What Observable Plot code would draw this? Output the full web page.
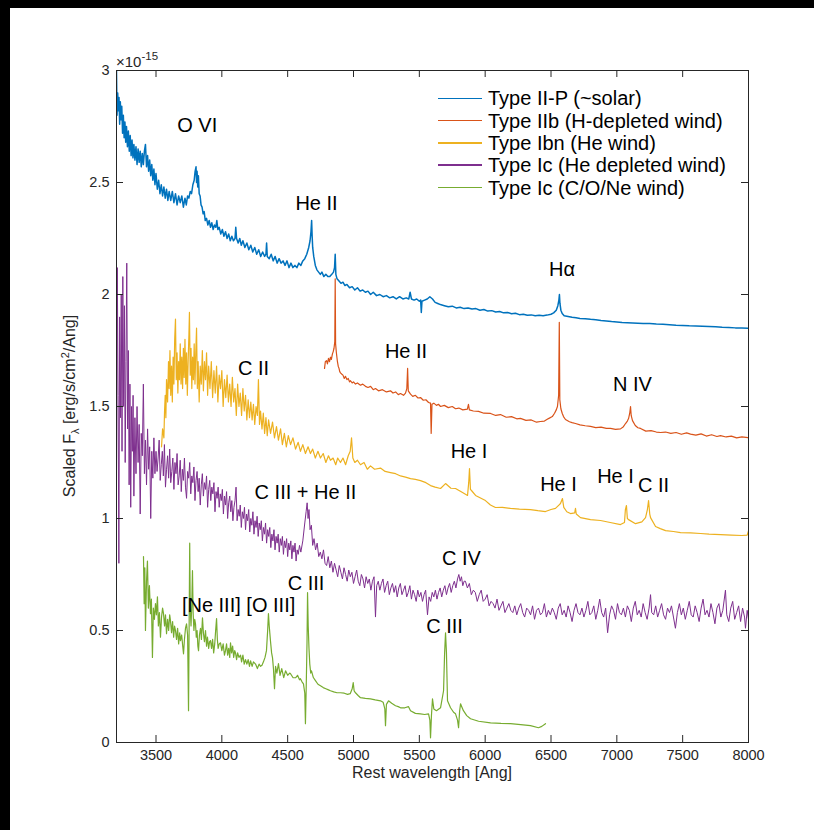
<!DOCTYPE html>
<html><head><meta charset="utf-8">
<script src="https://cdn.jsdelivr.net/npm/d3@7"></script>
<script src="https://cdn.jsdelivr.net/npm/@observablehq/plot@0.6"></script>
<style>
body{margin:0;background:#fff;}
#wrap{position:relative;width:814px;height:830px;overflow:hidden;font-family:"Liberation Sans",Arial,Helvetica,sans-serif;}
#wrap svg{position:absolute;left:0;top:0;}
.ov{position:absolute;white-space:nowrap;}
.band{position:absolute;background:#000;}
</style></head>
<body><div id="wrap"></div>
<script>
// ---- series (wavelength [Ang], scaled flux [1e-15 erg/s/cm2/Ang]) ----
const typeIIP = [[3200,3.00],[3204,2.80],[3209,2.90],[3214,2.82],[3219,2.88],[3224,2.76],[3229,2.86],[3234,2.78],[3240,2.84],[3246,2.72],[3252,2.80],[3258,2.70],[3264,2.77],[3270,2.68],[3276,2.75],[3283,2.66],[3290,2.73],[3297,2.64],[3304,2.71],[3311,2.62],[3318,2.69],[3325,2.61],[3332,2.67],[3340,2.60],[3348,2.66],[3356,2.58],[3364,2.65],[3372,2.59],[3380,2.64],[3388,2.57],[3396,2.63],[3404,2.58],[3412,2.64],[3420,2.67],[3428,2.57],[3436,2.62],[3444,2.55],[3452,2.60],[3460,2.53],[3468,2.58],[3476,2.51],[3484,2.56],[3492,2.49],[3500,2.54],[3510,2.47],[3520,2.51],[3530,2.45],[3540,2.49],[3550,2.44],[3560,2.48],[3570,2.43],[3580,2.47],[3590,2.42],[3600,2.46],[3612,2.42],[3624,2.46],[3636,2.41],[3648,2.45],[3660,2.40],[3672,2.44],[3684,2.41],[3696,2.44],[3708,2.39],[3720,2.43],[3730,2.40],[3740,2.44],[3750,2.43],[3760,2.46],[3770,2.45],[3780,2.49],[3790,2.51],[3797,2.55],[3804,2.57],[3808,2.50],[3812,2.55],[3817,2.48],[3822,2.53],[3828,2.45],[3835,2.44],[3842,2.40],[3850,2.39],[3858,2.36],[3866,2.37],[3874,2.33],[3884,2.34],[3894,2.31],[3904,2.33],[3914,2.30],[3924,2.32],[3934,2.29],[3944,2.31],[3954,2.30],[3962,2.33],[3970,2.29],[3980,2.30],[3992,2.27],[4004,2.29],[4016,2.26],[4028,2.28],[4040,2.25],[4052,2.27],[4064,2.24],[4076,2.26],[4088,2.24],[4100,2.25],[4106,2.30],[4112,2.25],[4124,2.23],[4136,2.25],[4148,2.22],[4160,2.24],[4175,2.21],[4190,2.23],[4205,2.20],[4220,2.22],[4235,2.19],[4250,2.21],[4265,2.18],[4280,2.20],[4295,2.17],[4310,2.19],[4325,2.17],[4335,2.18],[4340,2.23],[4345,2.17],[4360,2.16],[4375,2.18],[4390,2.15],[4405,2.17],[4420,2.14],[4435,2.16],[4450,2.14],[4465,2.15],[4480,2.13],[4495,2.15],[4510,2.12],[4525,2.14],[4540,2.12],[4555,2.13],[4570,2.12],[4585,2.14],[4600,2.13],[4615,2.15],[4630,2.16],[4645,2.18],[4660,2.21],[4670,2.24],[4677,2.28],[4682,2.33],[4686,2.26],[4690,2.21],[4698,2.17],[4710,2.13],[4722,2.11],[4735,2.10],[4748,2.09],[4760,2.10],[4775,2.08],[4790,2.09],[4805,2.08],[4820,2.08],[4835,2.09],[4848,2.10],[4856,2.12],[4861,2.18],[4866,2.09],[4875,2.07],[4890,2.06],[4905,2.05],[4920,2.055],[4935,2.04],[4950,2.045],[4970,2.03],[4990,2.035],[5010,2.02],[5030,2.03],[5050,2.015],[5070,2.02],[5090,2.01],[5110,2.015],[5130,2.00],[5150,2.01],[5175,1.995],[5200,2.00],[5225,1.99],[5250,1.995],[5275,1.985],[5300,1.99],[5325,1.98],[5350,1.99],[5375,1.98],[5400,1.985],[5420,1.98],[5430,2.01],[5440,1.98],[5460,1.975],[5480,1.98],[5500,1.97],[5510,1.975],[5515,1.92],[5520,1.97],[5540,1.975],[5560,1.98],[5580,1.99],[5600,1.98],[5620,1.965],[5640,1.96],[5660,1.955],[5690,1.95],[5720,1.945],[5750,1.948],[5780,1.94],[5810,1.943],[5840,1.937],[5870,1.94],[5900,1.935],[5930,1.937],[5960,1.93],[5990,1.933],[6020,1.926],[6050,1.928],[6080,1.922],[6110,1.924],[6140,1.918],[6170,1.92],[6200,1.914],[6230,1.916],[6260,1.91],[6290,1.912],[6320,1.907],[6350,1.909],[6380,1.905],[6410,1.907],[6440,1.905],[6470,1.908],[6500,1.912],[6520,1.918],[6540,1.93],[6552,1.95],[6560,1.975],[6564,2.00],[6568,1.96],[6575,1.93],[6585,1.915],[6600,1.905],[6630,1.902],[6660,1.898],[6690,1.896],[6720,1.893],[6760,1.892],[6800,1.889],[6840,1.887],[6880,1.884],[6920,1.882],[6960,1.879],[7000,1.877],[7040,1.875],[7080,1.874],[7120,1.873],[7160,1.872],[7200,1.871],[7250,1.870],[7300,1.868],[7350,1.867],[7400,1.865],[7450,1.863],[7500,1.862],[7550,1.860],[7600,1.859],[7650,1.858],[7700,1.857],[7750,1.856],[7800,1.854],[7850,1.853],[7900,1.851],[7950,1.850],[8000,1.849]];

const typeIIb = [[4780,1.67],[4786,1.70],[4795,1.705],[4802,1.69],[4810,1.715],[4818,1.70],[4825,1.72],[4832,1.71],[4840,1.735],[4846,1.745],[4852,1.76],[4858,1.79],[4861,2.07],[4864,1.78],[4870,1.74],[4878,1.70],[4884,1.68],[4890,1.67],[4896,1.655],[4901,1.65],[4910,1.645],[4920,1.64],[4930,1.625],[4939,1.635],[4950,1.62],[4960,1.625],[4970,1.61],[4977,1.615],[4990,1.605],[5000,1.61],[5015,1.60],[5030,1.605],[5053,1.595],[5070,1.60],[5091,1.59],[5110,1.585],[5130,1.59],[5150,1.575],[5167,1.58],[5190,1.57],[5220,1.575],[5250,1.565],[5281,1.57],[5300,1.56],[5320,1.565],[5340,1.553],[5357,1.558],[5380,1.55],[5395,1.56],[5405,1.58],[5411,1.67],[5416,1.57],[5433,1.555],[5450,1.545],[5470,1.55],[5490,1.538],[5509,1.54],[5530,1.528],[5550,1.53],[5570,1.518],[5585,1.515],[5590,1.38],[5596,1.51],[5610,1.515],[5630,1.505],[5645,1.51],[5661,1.50],[5690,1.505],[5720,1.495],[5750,1.50],[5775,1.49],[5800,1.493],[5830,1.485],[5865,1.488],[5873,1.51],[5880,1.485],[5910,1.48],[5950,1.478],[5990,1.47],[6041,1.469],[6080,1.46],[6116,1.464],[6160,1.452],[6200,1.455],[6240,1.445],[6268,1.447],[6310,1.438],[6350,1.44],[6390,1.43],[6420,1.433],[6450,1.435],[6481,1.446],[6510,1.455],[6527,1.47],[6540,1.485],[6549,1.50],[6558,1.55],[6563,1.876],[6567,1.53],[6575,1.49],[6585,1.47],[6595,1.455],[6610,1.442],[6640,1.432],[6660,1.428],[6686,1.424],[6720,1.418],[6760,1.414],[6800,1.411],[6840,1.406],[6880,1.408],[6920,1.402],[6952,1.402],[6990,1.398],[7028,1.40],[7050,1.41],[7066,1.424],[7080,1.435],[7089,1.446],[7098,1.47],[7104,1.50],[7109,1.46],[7119,1.437],[7140,1.415],[7160,1.405],[7180,1.402],[7220,1.39],[7260,1.392],[7300,1.386],[7332,1.384],[7370,1.386],[7410,1.38],[7450,1.384],[7490,1.376],[7530,1.382],[7560,1.377],[7600,1.372],[7640,1.378],[7680,1.368],[7720,1.374],[7760,1.366],[7787,1.37],[7830,1.364],[7870,1.368],[7910,1.36],[7950,1.364],[8000,1.361]];

const typeIbn = [[3542,1.32],[3550,1.40],[3560,1.36],[3565,1.48],[3570,1.55],[3575,1.45],[3580,1.62],[3588,1.52],[3595,1.70],[3600,1.58],[3606,1.75],[3612,1.55],[3618,1.68],[3624,1.52],[3630,1.72],[3636,1.60],[3642,1.80],[3648,1.89],[3654,1.62],[3660,1.74],[3666,1.56],[3672,1.70],[3678,1.62],[3684,1.78],[3690,1.60],[3696,1.72],[3702,1.58],[3708,1.76],[3714,1.63],[3720,1.80],[3726,1.60],[3732,1.74],[3738,1.55],[3744,1.70],[3750,1.82],[3754,1.92],[3760,1.64],[3766,1.76],[3772,1.58],[3778,1.72],[3784,1.62],[3790,1.78],[3796,1.60],[3802,1.74],[3808,1.85],[3814,1.58],[3820,1.70],[3828,1.52],[3836,1.68],[3844,1.60],[3852,1.75],[3860,1.57],[3868,1.70],[3876,1.62],[3884,1.74],[3892,1.55],[3900,1.68],[3910,1.58],[3920,1.70],[3930,1.54],[3940,1.66],[3950,1.56],[3960,1.68],[3970,1.52],[3980,1.64],[3990,1.58],[4000,1.66],[4010,1.50],[4020,1.62],[4030,1.54],[4040,1.64],[4050,1.52],[4060,1.60],[4070,1.50],[4080,1.63],[4090,1.52],[4100,1.58],[4110,1.46],[4120,1.60],[4130,1.50],[4140,1.56],[4150,1.46],[4160,1.58],[4170,1.48],[4180,1.55],[4190,1.44],[4200,1.53],[4210,1.45],[4220,1.52],[4230,1.44],[4240,1.51],[4250,1.42],[4260,1.50],[4270,1.46],[4278,1.62],[4286,1.42],[4294,1.48],[4305,1.40],[4315,1.47],[4325,1.38],[4335,1.45],[4345,1.37],[4355,1.44],[4370,1.38],[4385,1.43],[4400,1.36],[4415,1.41],[4430,1.35],[4446,1.40],[4460,1.33],[4475,1.38],[4490,1.32],[4505,1.37],[4522,1.33],[4540,1.36],[4560,1.31],[4580,1.34],[4597,1.30],[4615,1.33],[4635,1.29],[4655,1.32],[4673,1.29],[4690,1.31],[4710,1.27],[4730,1.30],[4749,1.27],[4770,1.29],[4790,1.25],[4810,1.28],[4825,1.26],[4845,1.27],[4865,1.24],[4880,1.27],[4901,1.25],[4920,1.27],[4940,1.24],[4960,1.28],[4975,1.30],[4985,1.36],[4995,1.27],[5010,1.25],[5030,1.26],[5053,1.24],[5080,1.25],[5105,1.22],[5129,1.235],[5160,1.22],[5205,1.225],[5240,1.21],[5281,1.205],[5320,1.20],[5357,1.19],[5395,1.185],[5433,1.178],[5470,1.175],[5509,1.169],[5550,1.16],[5585,1.147],[5620,1.14],[5661,1.134],[5699,1.156],[5740,1.135],[5775,1.134],[5828,1.116],[5866,1.103],[5875,1.16],[5881,1.223],[5888,1.13],[5896,1.125],[5927,1.103],[6002,1.08],[6040,1.06],[6078,1.049],[6130,1.05],[6192,1.045],[6260,1.042],[6344,1.04],[6400,1.035],[6458,1.031],[6500,1.04],[6534,1.045],[6560,1.06],[6572,1.067],[6587,1.089],[6597,1.05],[6620,1.03],[6648,1.022],[6680,1.025],[6686,1.045],[6692,1.02],[6724,1.004],[6800,0.995],[6876,0.991],[6950,0.982],[7028,0.973],[7058,0.982],[7065,1.04],[7073,1.058],[7080,1.0],[7089,0.995],[7142,0.977],[7190,0.985],[7218,1.004],[7232,1.04],[7241,1.08],[7250,1.02],[7256,1.004],[7294,0.964],[7330,0.955],[7370,0.946],[7430,0.942],[7484,0.937],[7560,0.936],[7636,0.933],[7700,0.93],[7788,0.928],[7870,0.926],[7950,0.924],[7990,0.926],[8000,0.945]];

const typeIcHe = [[3200,1.20],[3206,2.12],[3212,1.55],[3218,0.80],[3224,1.90],[3230,1.45],[3236,2.00],[3242,1.30],[3248,2.08],[3254,1.50],[3260,1.95],[3266,1.25],[3272,1.70],[3278,2.14],[3284,1.40],[3290,1.75],[3296,1.15],[3302,1.60],[3308,1.05],[3314,1.50],[3320,1.30],[3326,1.55],[3332,1.10],[3340,1.45],[3348,1.20],[3356,1.50],[3364,1.25],[3372,1.42],[3380,1.02],[3388,1.38],[3396,1.28],[3404,1.60],[3412,1.20],[3420,1.35],[3428,1.15],[3436,1.40],[3444,1.22],[3452,1.32],[3460,1.00],[3468,1.30],[3476,1.18],[3484,1.36],[3492,1.20],
[3500,1.30],[3508,1.21],[3516,1.27],[3524,1.35],[3532,1.17],[3540,1.24],[3548,1.30],[3556,1.19],[3564,1.33],[3572,1.14],[3580,1.22],[3588,1.28],[3596,1.18],[3604,1.31],[3612,1.16],[3620,1.21],[3628,1.27],[3636,1.13],[3644,1.25],[3652,1.20],[3660,1.29],[3668,1.15],[3676,1.19],[3684,1.26],[3692,1.12],[3700,1.22],[3708,1.17],[3716,1.27],[3724,1.14],[3732,1.09],[3740,1.21],[3748,1.18],[3756,1.25],[3764,1.11],[3772,1.19],[3780,1.16],[3788,1.23],[3796,1.08],[3804,1.17],[3812,1.21],[3820,1.12],[3828,1.18],[3836,1.06],[3844,1.15],[3852,1.20],[3860,1.10],[3868,1.16],[3876,1.13],[3884,1.19],[3892,1.05],[3900,1.13],[3908,1.17],[3916,1.08],[3924,1.14],[3932,1.11],[3940,1.16],[3948,1.03],[3956,1.12],[3964,1.09],[3972,1.14],[3980,1.05],[3988,1.11],[3996,1.08],[4004,1.13],[4012,1.02],[4020,1.10],[4028,1.06],[4036,1.12],[4044,1.00],[4052,1.07],[4060,1.10],[4068,1.03],[4076,1.08],[4084,0.99],[4092,1.05],[4100,1.08],[4108,1.14],[4116,0.99],[4124,1.04],[4132,1.01],[4140,1.06],[4148,0.96],[4156,1.03],[4164,1.00],[4172,1.05],[4180,0.95],[4188,1.02],[4196,0.99],[4204,1.04],[4212,0.94],[4220,1.00],[4228,0.97],[4236,1.03],[4244,0.93],[4252,0.99],[4260,0.96],[4268,1.01],[4276,0.92],[4284,0.98],[4292,0.95],[4300,0.99],[4308,0.90],[4316,0.96],[4324,0.93],[4332,0.98],[4340,0.89],[4348,0.95],[4356,0.92],[4364,0.96],[4372,0.87],[4380,0.93],[4388,0.90],[4396,0.95],[4404,0.86],[4412,0.92],[4420,0.89],[4428,0.93],[4436,0.85],[4444,0.91],[4452,0.88],[4460,0.92],[4468,0.84],[4476,0.90],[4484,0.87],[4492,0.91],[4500,0.83],[4508,0.89],[4516,0.86],[4524,0.90],[4532,0.82],[4540,0.88],[4548,0.85],[4556,0.89],[4564,0.81],[4572,0.86],[4580,0.84],[4590,0.88],[4600,0.85],[4615,0.90],[4630,0.98],[4640,1.03],[4648,1.07],[4655,1.00],[4662,1.04],[4670,0.95],[4680,0.97],[4690,0.88],
[4700,0.91],[4712,0.86],[4724,0.89],[4736,0.83],[4748,0.85],[4760,0.82],[4772,0.86],[4784,0.80],[4796,0.79],[4808,0.83],[4820,0.78],[4832,0.81],[4844,0.76],[4856,0.80],[4868,0.77],[4880,0.74],[4892,0.79],[4904,0.76],[4916,0.73],[4928,0.78],[4940,0.75],[4952,0.72],[4964,0.77],[4976,0.74],[4988,0.76],[5000,0.71],[5012,0.74],[5024,0.77],[5036,0.72],[5048,0.70],[5060,0.75],[5072,0.73],[5084,0.69],[5096,0.74],[5108,0.71],[5120,0.73],[5132,0.68],[5144,0.72],[5156,0.74],[5167,0.56],[5176,0.70],[5188,0.72],[5200,0.68],[5212,0.71],[5224,0.73],[5236,0.67],[5248,0.70],[5260,0.72],[5272,0.66],[5284,0.69],[5296,0.71],[5308,0.67],[5320,0.70],[5332,0.65],[5344,0.69],[5356,0.71],[5368,0.66],[5380,0.68],[5392,0.70],[5404,0.65],[5416,0.67],[5428,0.70],[5440,0.64],[5452,0.68],[5464,0.66],[5476,0.63],[5488,0.68],[5500,0.65],[5512,0.67],[5524,0.63],[5536,0.66],[5548,0.68],[5562,0.57],[5574,0.65],[5586,0.63],[5598,0.67],[5610,0.65],[5622,0.68],[5634,0.64],[5646,0.67],[5658,0.69],[5670,0.65],[5682,0.68],[5694,0.70],[5706,0.66],[5718,0.69],[5730,0.71],[5742,0.67],[5754,0.70],[5766,0.72],[5778,0.69],[5790,0.73],[5800,0.75],[5810,0.72],[5820,0.74],[5830,0.70],[5840,0.72],
[5850,0.72],[5865,0.69],[5880,0.71],[5895,0.66],[5910,0.68],[5925,0.67],[5940,0.63],[5955,0.66],[5970,0.68],[5985,0.63],[6000,0.64],[6015,0.66],[6030,0.61],[6045,0.63],[6060,0.62],[6075,0.60],[6090,0.64],[6105,0.59],[6120,0.61],[6135,0.63],[6150,0.58],[6165,0.60],[6180,0.62],[6195,0.59],[6210,0.58],[6225,0.61],[6240,0.57],[6255,0.60],[6270,0.62],[6285,0.58],[6300,0.56],[6315,0.60],[6330,0.59],[6345,0.57],[6360,0.61],[6375,0.55],[6390,0.59],[6405,0.60],[6420,0.57],[6435,0.58],[6450,0.62],[6465,0.56],[6480,0.59],[6495,0.57],[6510,0.60],[6525,0.58],[6540,0.55],[6555,0.60],[6570,0.62],[6585,0.57],[6600,0.59],[6615,0.56],[6630,0.61],[6645,0.58],[6660,0.54],[6675,0.59],[6690,0.62],[6705,0.58],[6720,0.57],[6735,0.60],[6750,0.56],[6765,0.59],[6780,0.63],[6795,0.57],[6810,0.58],[6825,0.61],[6840,0.55],[6855,0.59],[6870,0.64],[6885,0.58],[6900,0.56],[6915,0.60],[6930,0.49],[6945,0.57],[6960,0.61],[6975,0.59],[6990,0.55],[7005,0.62],[7020,0.58],[7035,0.57],[7050,0.60],[7065,0.56],[7080,0.61],[7095,0.59],[7110,0.54],[7125,0.60],[7140,0.63],[7155,0.57],[7170,0.59],[7185,0.56],[7200,0.62],[7215,0.58],[7230,0.55],[7245,0.60],[7256,0.66],[7265,0.58],[7280,0.57],[7295,0.61],[7310,0.56],[7325,0.59],[7340,0.62],[7355,0.57],[7370,0.55],[7385,0.60],[7400,0.58],[7415,0.61],[7430,0.56],[7445,0.51],[7460,0.58],[7475,0.62],[7490,0.57],[7505,0.60],[7520,0.55],[7535,0.59],[7550,0.63],[7565,0.57],[7580,0.56],[7595,0.61],[7610,0.58],[7625,0.54],[7640,0.60],[7655,0.64],[7670,0.57],[7685,0.59],[7700,0.56],[7715,0.62],[7730,0.58],[7745,0.53],[7760,0.60],[7775,0.62],[7790,0.56],[7805,0.59],[7825,0.68],[7835,0.57],[7850,0.54],[7865,0.60],[7880,0.63],[7895,0.55],[7910,0.58],[7925,0.61],[7940,0.54],[7955,0.60],[7970,0.56],[7977,0.51],[7990,0.59],[8000,0.55]];

const typeIcCONe = [[3405,0.83],[3410,0.62],[3415,0.78],[3420,0.50],[3428,0.72],[3435,0.81],[3442,0.60],[3450,0.70],[3458,0.575],[3465,0.64],[3473,0.38],[3480,0.60],[3488,0.55],[3496,0.62],[3503,0.57],[3511,0.65],[3518,0.52],[3526,0.58],[3534,0.47],[3542,0.56],[3550,0.60],[3557,0.575],[3565,0.52],[3572,0.57],[3580,0.486],[3588,0.55],[3596,0.50],[3604,0.57],[3610,0.544],[3618,0.49],[3626,0.54],[3634,0.47],[3641,0.52],[3648,0.50],[3656,0.46],[3664,0.51],[3672,0.44],[3680,0.49],[3686,0.455],[3695,0.48],[3703,0.43],[3709,0.396],[3716,0.46],[3724,0.51],[3732,0.53],[3740,0.48],[3747,0.142],[3752,0.55],[3756,0.89],[3760,0.60],[3766,0.52],[3772,0.62],[3777,0.767],[3782,0.58],[3788,0.50],[3794,0.55],[3800,0.53],[3806,0.47],[3812,0.50],[3818,0.43],[3823,0.41],[3830,0.48],[3838,0.51],[3845,0.46],[3853,0.557],[3860,0.49],[3868,0.45],[3876,0.50],[3884,0.43],[3891,0.47],[3900,0.42],[3907,0.45],[3914,0.455],[3922,0.42],[3930,0.46],[3938,0.40],[3946,0.44],[3953,0.50],[3960,0.553],[3966,0.46],[3972,0.42],[3980,0.44],[3990,0.445],[4000,0.41],[4010,0.44],[4020,0.39],[4028,0.41],[4036,0.44],[4044,0.39],[4052,0.42],[4060,0.38],[4066,0.445],[4074,0.40],[4082,0.43],[4090,0.38],[4098,0.41],[4104,0.40],[4112,0.37],[4120,0.40],[4130,0.38],[4142,0.39],[4150,0.36],[4160,0.39],[4170,0.35],[4180,0.37],[4190,0.35],[4200,0.37],[4210,0.34],[4218,0.365],[4230,0.34],[4240,0.36],[4256,0.35],[4270,0.33],[4283,0.35],[4294,0.34],[4305,0.345],[4316,0.36],[4328,0.38],[4339,0.41],[4348,0.50],[4354,0.575],[4360,0.52],[4370,0.45],[4378,0.40],[4385,0.378],[4392,0.33],[4400,0.24],[4408,0.34],[4418,0.31],[4430,0.352],[4442,0.30],[4455,0.33],[4470,0.29],[4484,0.32],[4500,0.30],[4515,0.31],[4522,0.307],[4540,0.29],[4560,0.289],[4575,0.30],[4590,0.28],[4597,0.285],[4610,0.27],[4620,0.262],[4630,0.22],[4635,0.084],[4641,0.25],[4647,0.45],[4651,0.669],[4656,0.52],[4662,0.42],[4668,0.35],[4675,0.31],[4681,0.32],[4695,0.29],[4711,0.276],[4730,0.26],[4749,0.253],[4770,0.245],[4790,0.24],[4810,0.235],[4825,0.231],[4850,0.226],[4875,0.222],[4901,0.222],[4930,0.22],[4955,0.215],[4975,0.218],[4990,0.24],[4998,0.267],[5005,0.23],[5015,0.222],[5035,0.21],[5053,0.20],[5090,0.197],[5129,0.195],[5165,0.19],[5205,0.186],[5225,0.18],[5238,0.15],[5243,0.075],[5250,0.17],[5266,0.186],[5290,0.175],[5319,0.164],[5340,0.16],[5357,0.155],[5390,0.155],[5418,0.16],[5433,0.142],[5470,0.13],[5509,0.128],[5540,0.125],[5570,0.128],[5580,0.10],[5585,0.021],[5592,0.12],[5600,0.195],[5610,0.15],[5630,0.142],[5661,0.155],[5684,0.231],[5692,0.40],[5699,0.49],[5706,0.40],[5714,0.186],[5737,0.155],[5760,0.135],[5775,0.128],[5790,0.10],[5798,0.066],[5806,0.14],[5813,0.173],[5822,0.16],[5835,0.142],[5860,0.12],[5889,0.106],[5950,0.095],[6041,0.088],[6120,0.085],[6192,0.084],[6270,0.08],[6344,0.075],[6405,0.066],[6430,0.072],[6458,0.084]];

const seriesNames = ["Type II-P (~solar)","Type IIb (H-depleted wind)","Type Ibn (He wind)","Type Ic (He depleted wind)","Type Ic (C/O/Ne wind)"];
const seriesColors = ["#0072BD","#D95319","#EDB120","#7E2F8E","#77AC30"];
const seriesWidths = [1.5,1.2,1.2,1,1.2];

// ---- line annotations ----
const annLabels = ["O VI","He II","Hα","He II","N IV","C II","He I","He I","He I","C II","C III + He II","C IV","[Ne III] [O III]","C III","C III"];
const annWave = [3813,4719,6584,5399,7119,4241,5877,6557,6990,7279,4635,5820,4127,4639,5691];
const annFlux = [2.753,2.406,2.110,1.744,1.596,1.668,1.297,1.152,1.189,1.149,1.116,0.819,0.613,0.709,0.517];

// ---- axes ----
const xTicks = [3500,4000,4500,5000,5500,6000,6500,7000,7500,8000];
const xTickLabels = ["3500","4000","4500","5000","5500","6000","6500","7000","7500","8000"];
const yTicks = [0,0.5,1,1.5,2,2.5,3];
const yTickLabels = ["0","0.5","1","1.5","2","2.5","3"];
const xLabel = "Rest wavelength [Ang]";

const W = 814, H = 830, mL = 116, mR = 66, mT = 70, mB = 88;
const plotW = W - mL - mR, plotH = H - mT - mB, tickLen = 7;
const axisColor = "#262626";
const font = '"Liberation Sans", Arial, Helvetica, sans-serif';

const allSeries = [typeIIP, typeIIb, typeIbn, typeIcHe, typeIcCONe];
const rows = allSeries.flatMap((s, k) => s.map(([w, f]) => ({w, f, k})));
const ann = annLabels.map((t, i) => ({t, w: annWave[i], f: annFlux[i]}));
const xLab = new Map(xTicks.map((t, i) => [t, xTickLabels[i]]));
const yLab = new Map(yTicks.map((t, i) => [t, yTickLabels[i]]));

const chart = Plot.plot({
  width: W, height: H,
  marginLeft: mL, marginRight: mR, marginTop: mT, marginBottom: mB,
  style: {fontFamily: font, background: "transparent", overflow: "visible"},
  x: {domain: [3200, 8000]},
  y: {domain: [0, 3]},
  marks: [
    ...allSeries.map((s, k) => Plot.line(rows.filter(d => d.k === k), {
      x: "w", y: "f", stroke: seriesColors[k], strokeWidth: seriesWidths[k], clip: true
    })),
    Plot.frame({stroke: axisColor, strokeWidth: 1}),
    Plot.ruleX(xTicks, {stroke: axisColor, insetTop: plotH - tickLen}),
    Plot.ruleX(xTicks, {stroke: axisColor, insetBottom: plotH - tickLen}),
    Plot.ruleY(yTicks, {stroke: axisColor, insetRight: plotW - tickLen}),
    Plot.ruleY(yTicks, {stroke: axisColor, insetLeft: plotW - tickLen}),
    Plot.axisX(xTicks, {tickSize: 0, tickPadding: 7, fontSize: 14.5, fill: axisColor, label: null, tickFormat: d => xLab.get(d)}),
    Plot.axisY(yTicks, {tickSize: 0, tickPadding: 7, fontSize: 14.5, fill: axisColor, label: null, tickFormat: d => yLab.get(d)}),
    Plot.text(ann, {x: "w", y: "f", text: "t", fontSize: 20, fill: "#000", textAnchor: "middle", lineAnchor: "middle"})
  ]
});

const wrap = document.getElementById("wrap");
wrap.appendChild(chart);

function ov(html, css) {
  const d = document.createElement("div");
  d.className = "ov";
  d.innerHTML = html;
  Object.assign(d.style, css);
  wrap.appendChild(d);
  return d;
}
// x label
ov(xLabel, {left: (mL + plotW / 2) + "px", top: "763px", transform: "translateX(-50%)", fontSize: "16px", lineHeight: "20px", color: axisColor});
// y label
ov('Scaled F<sub style="font-size:11px;vertical-align:-4px">λ</sub> [erg/s/cm<sup style="font-size:11px;vertical-align:6px">2</sup>/Ang]',
   {left: "70px", top: "406px", transform: "translate(-50%,-50%) rotate(-90deg)", fontSize: "16px", lineHeight: "20px", color: axisColor});
// exponent
ov('×10<span style="font-size:11.5px;position:relative;top:-7px">-15</span>', {left: "116px", top: "53px", fontSize: "15px", lineHeight: "17px", color: axisColor});
// legend
const legY = [98.3, 120.6, 142.9, 165.2, 187.5];
seriesNames.forEach((n, i) => {
  ov("", {left: "438px", top: (legY[i] - 0.75) + "px", width: "44px", height: "1.5px", background: seriesColors[i]});
  ov(n, {left: "488px", top: (legY[i] - 12) + "px", fontSize: "20px", lineHeight: "24px", color: "#000"});
});
// black border strips of the original image
const b1 = document.createElement("div"); b1.className = "band"; Object.assign(b1.style, {left: "0px", top: "0px", width: "814px", height: "8px"}); wrap.appendChild(b1);
const b2 = document.createElement("div"); b2.className = "band"; Object.assign(b2.style, {left: "0px", top: "0px", width: "10px", height: "830px"}); wrap.appendChild(b2);
</script>
</body></html>
